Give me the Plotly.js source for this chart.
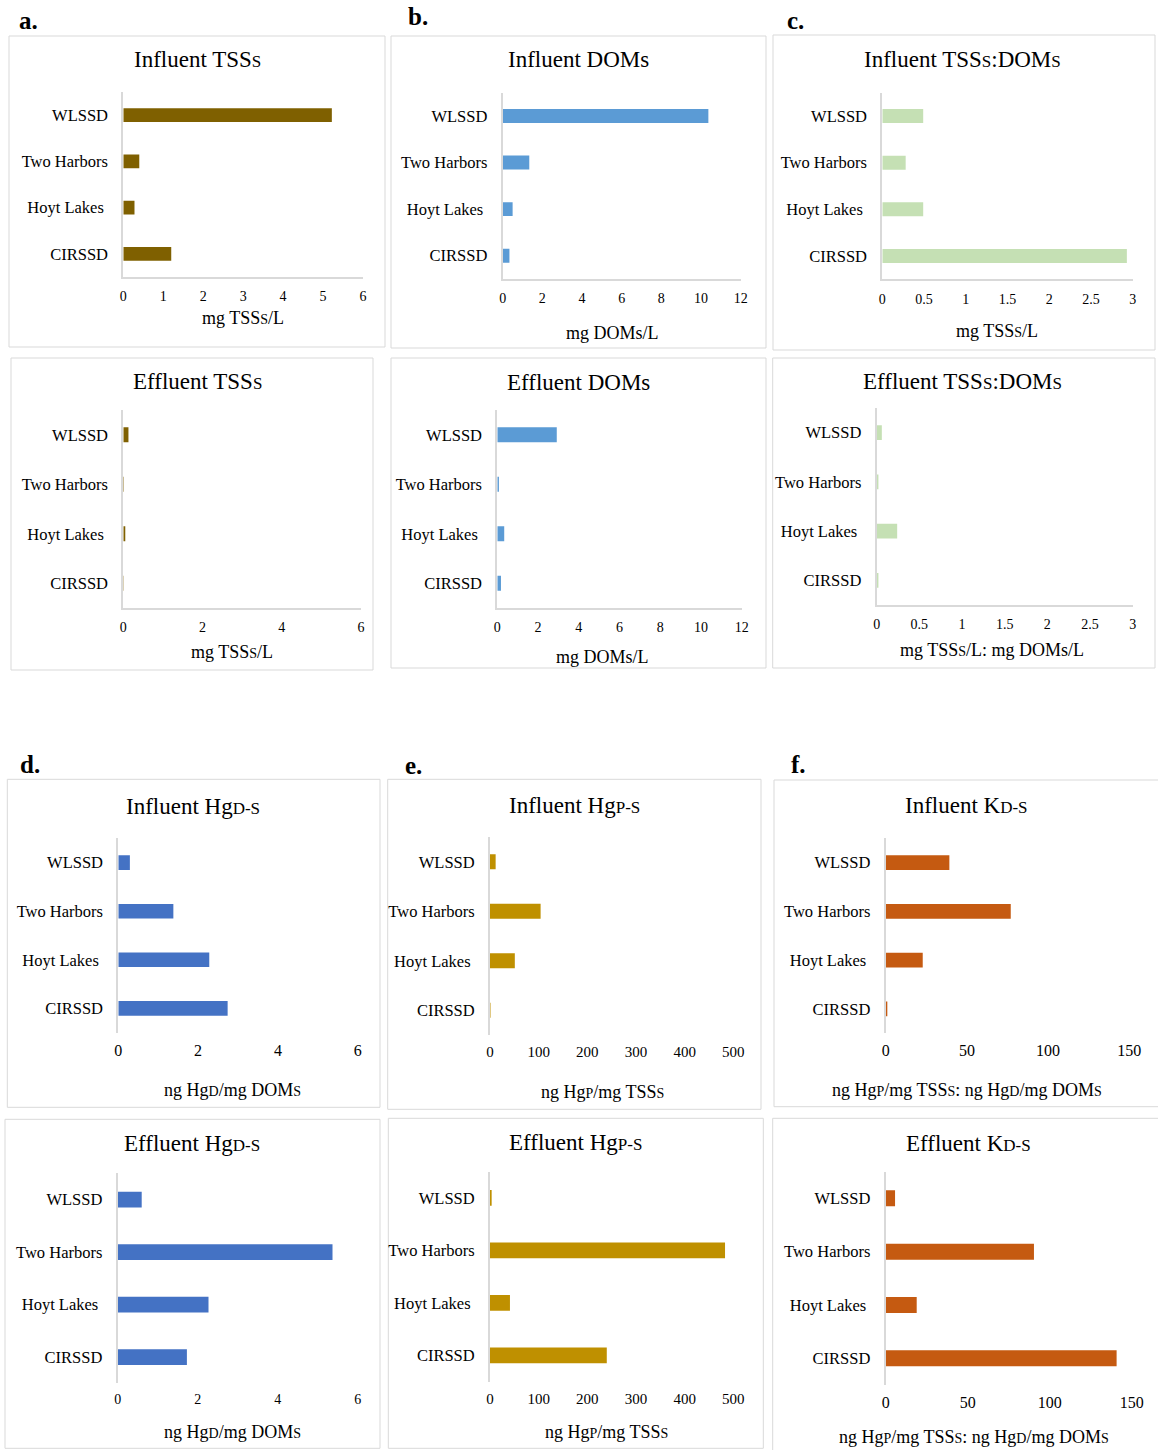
<!DOCTYPE html>
<html>
<head>
<meta charset="utf-8">
<script src="https://cdn.plot.ly/plotly-3.0.1.min.js"></script>
<style>html,body{margin:0;padding:0;background:#fff;}#chart{width:1158px;height:1450px;}</style>
</head>
<body>
<div id="chart"></div>
<script>
// ---- data ----
const sites = ['WLSSD', 'Two Harbors', 'Hoyt Lakes', 'CIRSSD'];
const siteLabels = ['WLSSD', 'Two Harbors', 'Hoyt Lakes\u00a0', 'CIRSSD'];

const influentTSS   = [5.22, 0.40, 0.28, 1.20];
const influentDOM   = [10.37, 1.34, 0.50, 0.34];
const influentRatio = [0.49, 0.28, 0.49, 2.93];
const effluentTSS   = [0.13, 0.015, 0.05, 0.01];
const effluentDOM   = [2.92, 0.08, 0.34, 0.18];
const effluentRatio = [0.06, 0.02, 0.24, 0.02];
const influentHgD   = [0.29, 1.38, 2.28, 2.74];
const influentHgP   = [11.6, 104, 51, 1.0];
const influentKD    = [39.2, 77, 22.8, 1.0];
const effluentHgD   = [0.60, 5.37, 2.27, 1.73];
const effluentHgP   = [3.4, 483, 41, 240];
const effluentKD    = [5.7, 90.4, 18.9, 140.8];

// ---- layout helpers ----
const W = 1158, H = 1450;
const fx = x => x / W;
const fy = y => 1 - y / H;
const FONT = 'Liberation Serif, Times New Roman, serif';
const sc = (s, size) => '<span style="font-size:' + size + 'px">' + s + '</span>';

const T = 23, TS = 17;  // title size / small-cap size
const A = 18, AS = 14;  // axis title size / small-cap size

const panels = [
  {v: influentTSS, c: '#7f6000', xd: [123.3, 363], yd: [92, 277], r: [0, 6], dt: 1, line: true, tf: 14,
   t: 'Influent TSS' + sc('S', TS), tp: [197, 60], xt: 'mg TSS' + sc('S', AS) + '/L', xp: [243, 318], box: [9, 36, 385, 347]},
  {v: influentDOM, c: '#5b9bd5', xd: [502.7, 740.7], yd: [92.7, 279], r: [0, 12], dt: 2, line: true, tf: 14,
   t: 'Influent DOMs', tp: [578, 60], xt: 'mg DOMs/L', xp: [612, 333], box: [391, 36, 766, 348]},
  {v: influentRatio, c: '#c5e0b4', xd: [882.3, 1132.7], yd: [92.7, 279.3], r: [0, 3], dt: 0.5, line: true, tf: 14,
   t: 'Influent TSS' + sc('S', TS) + ':DOM' + sc('S', TS), tp: [962, 60], xt: 'mg TSS' + sc('S', AS) + '/L', xp: [997, 331], box: [773, 35, 1155, 350]},
  {v: effluentTSS, c: '#7f6000', xd: [123.3, 361], yd: [410, 608], r: [0, 6], dt: 2, line: true, tf: 14,
   t: 'Effluent TSS' + sc('S', TS), tp: [197, 381], xt: 'mg TSS' + sc('S', AS) + '/L', xp: [232, 652], box: [11, 358, 373, 670]},
  {v: effluentDOM, c: '#5b9bd5', xd: [497.3, 741.7], yd: [410, 608], r: [0, 12], dt: 2, line: true, tf: 14,
   t: 'Effluent DOMs', tp: [578, 382], xt: 'mg DOMs/L', xp: [602, 657], box: [391, 358, 766, 668]},
  {v: effluentRatio, c: '#c5e0b4', xd: [876.7, 1132.7], yd: [408, 605], r: [0, 3], dt: 0.5, line: true, tf: 14,
   t: 'Effluent TSS' + sc('S', TS) + ':DOM' + sc('S', TS), tp: [962, 381], xt: 'mg TSS' + sc('S', AS) + '/L: mg DOMs/L', xp: [992, 650], box: [772.7, 358, 1155, 668]},
  {v: influentHgD, c: '#4472c4', xd: [118.3, 357.7], yd: [838.3, 1032.7], r: [0, 6], dt: 2, line: false, tf: 16,
   t: 'Influent Hg' + sc('D-S', TS), tp: [193, 806], xt: 'ng Hg' + sc('D', AS) + '/mg DOM' + sc('S', AS), xp: [232, 1090], box: [7.3, 779.3, 380, 1107.3]},
  {v: influentHgP, c: '#bf9000', xd: [490, 733.3], yd: [837, 1035], r: [0, 500], dt: 100, line: false, tf: 15,
   t: 'Influent Hg' + sc('P-S', TS), tp: [574, 805], xt: 'ng Hg' + sc('P', AS) + '/mg TSS' + sc('S', AS), xp: [602, 1092], box: [387.7, 779.3, 761, 1109.3]},
  {v: influentKD, c: '#c55a11', xd: [885.7, 1129.3], yd: [838.3, 1033.3], r: [0, 150], dt: 50, line: false, tf: 16,
   t: 'Influent K' + sc('D-S', TS), tp: [966, 805], xt: 'ng Hg' + sc('P', AS) + '/mg TSS' + sc('S', AS) + ': ng Hg' + sc('D', AS) + '/mg DOM' + sc('S', AS), xp: [967, 1090], box: [774, 780, 1162, 1106.7]},
  {v: effluentHgD, c: '#4472c4', xd: [117.7, 357.7], yd: [1173.3, 1383.3], r: [0, 6], dt: 2, line: false, tf: 14,
   t: 'Effluent Hg' + sc('D-S', TS), tp: [192, 1143], xt: 'ng Hg' + sc('D', AS) + '/mg DOM' + sc('S', AS), xp: [232, 1432], box: [5, 1119.3, 380, 1448.3]},
  {v: effluentHgP, c: '#bf9000', xd: [490, 733.3], yd: [1171.7, 1381.7], r: [0, 500], dt: 100, line: false, tf: 15,
   t: 'Effluent Hg' + sc('P-S', TS), tp: [575, 1142], xt: 'ng Hg' + sc('P', AS) + '/mg TSS' + sc('S', AS), xp: [606, 1432], box: [388.3, 1118.3, 763.3, 1448.3]},
  {v: effluentKD, c: '#c55a11', xd: [885.7, 1131.7], yd: [1171.7, 1385], r: [0, 150], dt: 50, line: false, tf: 16,
   t: 'Effluent K' + sc('D-S', TS), tp: [968, 1143], xt: 'ng Hg' + sc('P', AS) + '/mg TSS' + sc('S', AS) + ': ng Hg' + sc('D', AS) + '/mg DOM' + sc('S', AS), xp: [974, 1437], box: [772.7, 1118.3, 1162, 1452]}
];

const letters = [
  ['a.', 28, 20], ['b.', 418, 16], ['c.', 795, 20],
  ['d.', 30, 764], ['e.', 413, 765], ['f.', 798, 764]
];

const data = [];
const layout = {
  width: W, height: H,
  margin: {l: 0, r: 0, t: 0, b: 0},
  paper_bgcolor: '#ffffff', plot_bgcolor: 'rgba(0,0,0,0)',
  showlegend: false,
  font: {family: FONT, color: '#000000'},
  annotations: [], shapes: []
};

panels.forEach((p, i) => {
  const n = i + 1;
  const xa = n === 1 ? 'x' : 'x' + n;
  const ya = n === 1 ? 'y' : 'y' + n;
  data.push({
    type: 'bar', orientation: 'h',
    x: p.v, y: sites,
    xaxis: xa, yaxis: ya,
    marker: {color: p.c, line: {width: 0}},
    hoverinfo: 'x+y'
  });
  layout['xaxis' + (n === 1 ? '' : n)] = {
    anchor: ya,
    domain: [fx(p.xd[0]), fx(p.xd[1])],
    range: p.r, dtick: p.dt, tick0: 0,
    showgrid: false, zeroline: false,
    showline: p.line, linecolor: '#d9d9d9', linewidth: 1.5,
    ticks: '', ticklabelstandoff: 6,
    tickfont: {family: FONT, size: p.tf, color: '#000'},
    fixedrange: true
  };
  layout['yaxis' + (n === 1 ? '' : n)] = {
    anchor: xa,
    domain: [fy(p.yd[1]), fy(p.yd[0])],
    type: 'category',
    categoryorder: 'array', categoryarray: sites.slice().reverse(),
    tickvals: sites, ticktext: siteLabels,
    range: [-0.5, 3.5],
    showgrid: false, zeroline: false,
    showline: true, linecolor: '#d9d9d9', linewidth: 2,
    ticks: '', ticklabelstandoff: 10,
    tickfont: {family: FONT, size: 16.5, color: '#000'},
    fixedrange: true
  };
  layout.annotations.push({
    xref: 'paper', yref: 'paper', x: fx(p.tp[0]), y: fy(p.tp[1]),
    xanchor: 'center', yanchor: 'middle', showarrow: false,
    text: p.t, font: {family: FONT, size: T, color: '#000'}
  });
  layout.annotations.push({
    xref: 'paper', yref: 'paper', x: fx(p.xp[0]), y: fy(p.xp[1]),
    xanchor: 'center', yanchor: 'middle', showarrow: false,
    text: p.xt, font: {family: FONT, size: A, color: '#000'}
  });
  layout.shapes.push({
    type: 'rect', xref: 'paper', yref: 'paper',
    x0: fx(p.box[0]), y0: fy(p.box[1]), x1: fx(p.box[2]), y1: fy(p.box[3]),
    line: {color: '#d9d9d9', width: 1}, fillcolor: 'rgba(0,0,0,0)', layer: 'below'
  });
});

layout.bargap = 0.7;

letters.forEach(l => {
  layout.annotations.push({
    xref: 'paper', yref: 'paper', x: fx(l[1]), y: fy(l[2]),
    xanchor: 'center', yanchor: 'middle', showarrow: false,
    text: '<b>' + l[0] + '</b>', font: {family: FONT, size: 25, color: '#000'}
  });
});

Plotly.newPlot('chart', data, layout, {displayModeBar: false, staticPlot: true});
</script>
</body>
</html>
